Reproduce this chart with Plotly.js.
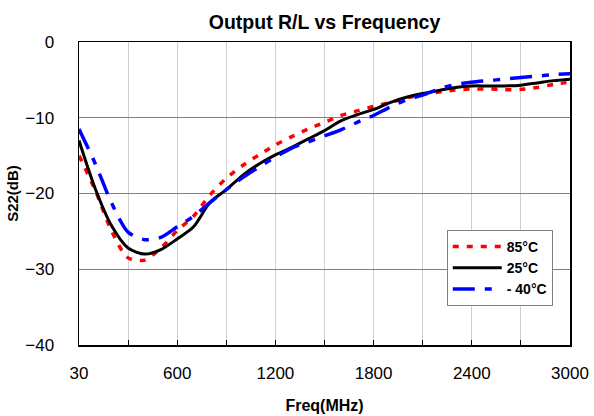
<!DOCTYPE html>
<html>
<head>
<meta charset="utf-8">
<script src="https://cdn.plot.ly/plotly-3.0.1.min.js"></script>
<style>html,body{margin:0;padding:0;background:#fff;}#chart{width:594px;height:416px;}</style>
</head>
<body>
<div id="chart"></div>
<script>
// Frequencies (MHz) - category positions as in the original chart
const freqMHz = [30,100,200,300,400,500,600,700,800,900,1000,1100,1200,1300,1400,1500,1600,1700,1800,1900,2000,2100,2200,2300,2400,2500,2600,2700,2800,2900,3000];
// S22 (dB) per temperature
const s22_85C = [-15.0,-19.6,-25.0,-28.5,-28.8,-27.2,-24.9,-23.0,-20.2,-18.0,-16.3,-14.9,-13.6,-12.5,-11.5,-10.6,-9.7,-9.1,-8.5,-8.0,-7.4,-6.9,-6.6,-6.35,-6.2,-6.2,-6.3,-6.25,-6.0,-5.6,-5.3];
const s22_25C = [-13.0,-19.4,-24.3,-27.2,-28.0,-27.4,-26.0,-24.4,-21.2,-19.5,-17.6,-16.1,-14.9,-13.9,-12.8,-11.7,-10.4,-9.6,-8.9,-8.0,-7.3,-6.8,-6.4,-6.0,-5.8,-5.8,-5.8,-5.7,-5.4,-5.1,-4.9];
const s22_m40C = [-11.5,-16.1,-21.3,-25.1,-26.1,-25.8,-24.4,-23.0,-21.2,-19.5,-17.9,-16.5,-15.2,-14.0,-13.2,-12.4,-11.6,-10.6,-9.7,-8.6,-7.65,-7.0,-6.2,-5.6,-5.3,-5.1,-4.9,-4.7,-4.5,-4.3,-4.2];
const seriesNames = ["85°C", "25°C", "- 40°C"];
// Axis ticks
const xTickVals = [30,300,600,900,1200,1500,1800,2100,2400,2700,3000];
const xTickText = ["30","","600","","1200","","1800","","2400","","3000"];
const yTickVals = [0,-10,-20,-30,-40];

const FONT = "Liberation Sans, Arial, sans-serif";

const traces = [
  {x: freqMHz, y: s22_85C, name: seriesNames[0], type: "scatter", mode: "lines",
   line: {color: "#ff0000", width: 3.5, dash: "6px,8px", shape: "spline", smoothing: 0.8}},
  {x: freqMHz, y: s22_25C, name: seriesNames[1], type: "scatter", mode: "lines",
   line: {color: "#000000", width: 3, shape: "spline", smoothing: 0.8}},
  {x: freqMHz, y: s22_m40C, name: seriesNames[2], type: "scatter", mode: "lines",
   line: {color: "#0000ff", width: 3.5, dash: "22px,10px,7px,10px", shape: "spline", smoothing: 0.8}}
];

const layout = {
  width: 594, height: 416,
  margin: {l: 79, r: 24, t: 42, b: 71},
  paper_bgcolor: "#ffffff", plot_bgcolor: "#ffffff",
  font: {family: FONT, color: "#000000"},
  showlegend: true,
  title: {text: "Output R/L vs Frequency", font: {family: FONT, size: 19.5, weight: "bold", color: "#000"},
          x: 0.5, xref: "paper", xanchor: "center", y: 1 - 22/416, yref: "container", yanchor: "middle"},
  xaxis: {
    type: "category", range: [0, 30], fixedrange: true,
    tickmode: "array", tickvals: xTickVals, ticktext: xTickText,
    showgrid: true, gridcolor: "#d0d0d0", gridwidth: 1,
    showline: true, linecolor: "#000000", linewidth: 1.5, mirror: true,
    ticks: "inside", ticklen: 5, tickcolor: "#000000", tickwidth: 1,
    tickfont: {family: FONT, size: 17, color: "#000"},
    ticklabelstandoff: 12,
    zeroline: false,
    title: {text: "Freq(MHz)", font: {family: FONT, size: 16, weight: "bold", color: "#000"}, standoff: 18}
  },
  yaxis: {
    range: [-40, 0], fixedrange: true,
    tickmode: "array", tickvals: yTickVals,
    showgrid: true, gridcolor: "#808080", gridwidth: 1,
    showline: true, linecolor: "#000000", linewidth: 1.5, mirror: true,
    ticks: "", zeroline: false,
    tickfont: {family: FONT, size: 17, color: "#000"},
    ticklabelstandoff: 20,
    title: {text: "S22(dB)", font: {family: FONT, size: 15, weight: "bold", color: "#000"}, standoff: 3}
  },
  legend: {
    x: 0.749, y: 0.3795, xanchor: "left", yanchor: "top",
    bgcolor: "#ffffff", bordercolor: "#808080", borderwidth: 1,
    font: {family: FONT, size: 14, weight: "bold", color: "#000"},
    itemwidth: 49,
    tracegroupgap: 0
  }
};

Plotly.newPlot("chart", traces, layout, {staticPlot: true, displayModeBar: false});
</script>
</body>
</html>
